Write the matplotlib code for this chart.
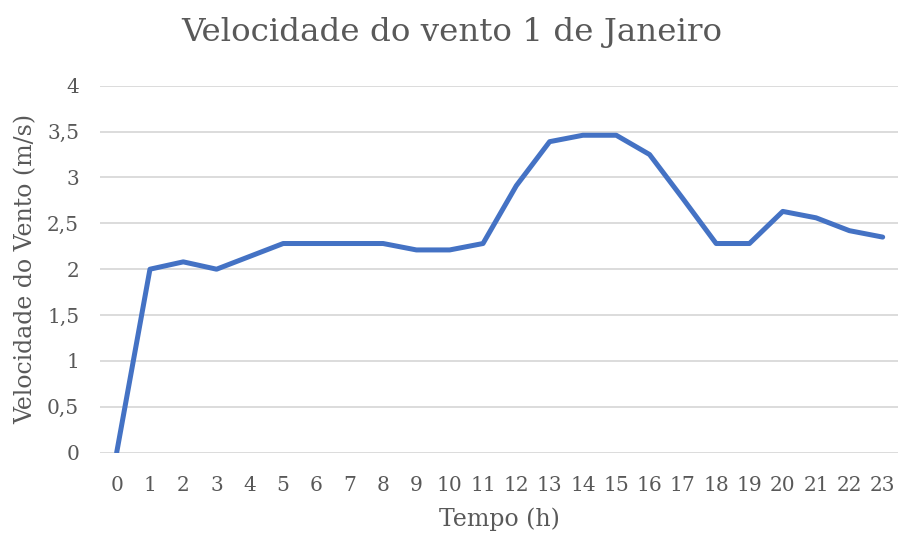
import matplotlib
matplotlib.use("Agg")
import matplotlib.pyplot as plt
from matplotlib.ticker import FuncFormatter

hours = list(range(24))
speed = [0, 2.0, 2.08, 2.0, 2.14, 2.28, 2.28, 2.28, 2.28, 2.21, 2.21, 2.28,
         2.91, 3.39, 3.46, 3.46, 3.25, 2.77, 2.28, 2.28, 2.63, 2.56, 2.42, 2.35]
yticks = [0, 0.5, 1, 1.5, 2, 2.5, 3, 3.5, 4]

title = "Velocidade do vento 1 de Janeiro"
xlabel = "Tempo (h)"
ylabel = "Velocidade do Vento (m/s)"

plt.rcParams['font.family'] = ['DejaVu Serif']
gray = '#595959'

fig = plt.figure(figsize=(8.98, 5.33), dpi=100)
ax = fig.add_axes([100/898, 1-452.7/533, 1-100/898, (452.7-85.7)/533])

ax.plot(hours, speed, color='#4472C4', lw=3.6, solid_capstyle='round', solid_joinstyle='round', zorder=3)
ax.set_xlim(-0.5, 23.46)
ax.set_ylim(0, 4)
ax.set_yticks(yticks)
ax.yaxis.set_major_formatter(FuncFormatter(lambda v, p: (f"{v:g}").replace('.', ',')))
ax.set_xticks(hours)
ax.set_xticklabels([str(h) for h in hours])
ax.grid(axis='y', color='#d9d9d9', lw=1.3)
ax.set_axisbelow(True)
for s in ax.spines.values():
    s.set_visible(False)
ax.tick_params(length=0, labelsize=14.5, colors=gray)
ax.tick_params(axis='x', pad=17)
ax.tick_params(axis='y', pad=15)
ax.set_xlabel(xlabel, fontsize=17, color=gray, labelpad=9)
ax.set_ylabel(ylabel, fontsize=17, color=gray, labelpad=7)
fig.text(452/898, 1-33/533, title, fontsize=23.4, color=gray, ha='center', va='center')

fig.savefig('out.png', dpi=100)
